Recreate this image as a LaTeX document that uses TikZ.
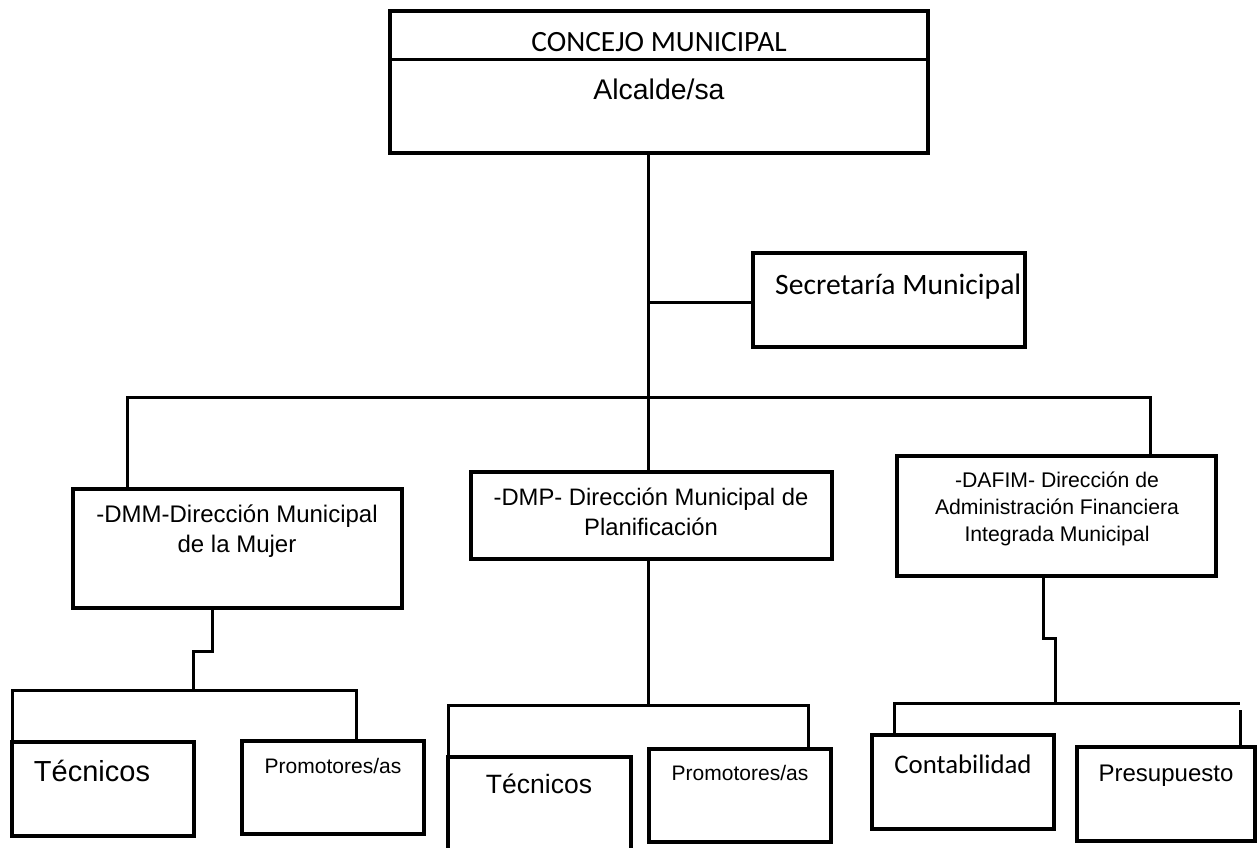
\documentclass[tikz,border=0pt]{standalone}
\usepackage{fontspec}
\setmainfont{Liberation Sans}
\newfontfamily\calibri{Carlito}
\usepackage{tikz}
\usetikzlibrary{positioning,calc}
\tikzset{
  orgbox/.style={
    rectangle, draw=black, line width=3.2pt,
    inner sep=0pt, outer sep=0pt, anchor=north west
  },
  link/.style={line width=3pt, draw=black, line join=miter},
  arialtxt/.style={font=\fontsize{#1}{#1}\selectfont, inner sep=0pt, anchor=base},
  calibritxt/.style={font=\calibri\fontsize{#1}{#1}\selectfont, inner sep=0pt, anchor=base},
}

\begin{document}
\begin{tikzpicture}[x=1pt, y=-1pt]
  \useasboundingbox (0,0) rectangle (1258,848);
  % top level
  \node[orgbox, minimum width=538pt, minimum height=142pt] at (390,11) (concejo) {};
  \draw[link] ([yshift=-49pt]concejo.north west) -- ([yshift=-49pt]concejo.north east);
  \node[calibritxt=29.4] at (659,52) (concejo-t) {CONCEJO MUNICIPAL};
  \node[arialtxt=28.4] at (659,100) (alcalde-t) {Alcalde/sa};
  \node[orgbox, minimum width=272pt, minimum height=94pt] at (753,253) (secretaria) {};
  \node[calibritxt=29.6, anchor=base west] at (775,294) (secretaria-t) {Secretaría Municipal};
  % direcciones
  \node[orgbox, minimum width=329pt, minimum height=119pt] at (73,489) (dmm) {};
  \node[orgbox, minimum width=361pt, minimum height=87pt] at (471,472) (dmp) {};
  \node[orgbox, minimum width=319pt, minimum height=120pt] at (897,456) (dafim) {};
  \node[font=\fontsize{24}{30}\selectfont, align=center, inner sep=0pt, anchor=base]
    at (237,552) (dmm-t) {-DMM-Dirección Municipal\\de la Mujer};
  \node[font=\fontsize{23.8}{30}\selectfont, align=center, inner sep=0pt, anchor=base]
    at (651,535) (dmp-t) {-DMP- Dirección Municipal de\\Planificación};
  \node[font=\fontsize{21.2}{27}\selectfont, align=center, inner sep=0pt, anchor=base]
    at (1057,541) (dafim-t) {-DAFIM- Dirección de\\Administración Financiera\\Integrada Municipal};
  % unidades
  \node[orgbox, minimum width=182pt, minimum height=94pt] at (12,742) (tec1) {};
  \node[orgbox, minimum width=182pt, minimum height=93pt] at (242,741) (pro1) {};
  \node[orgbox, minimum width=183pt, minimum height=96pt] at (448,757) (tec2) {};
  \node[orgbox, minimum width=182pt, minimum height=93pt] at (649,749) (pro2) {};
  \node[orgbox, minimum width=182pt, minimum height=94pt] at (872,735) (conta) {};
  \node[orgbox, minimum width=178pt, minimum height=94pt] at (1077,747) (presu) {};
  \node[arialtxt=29] at (92,781) (tec1-t) {Técnicos};
  \node[arialtxt=21] at (333,773) (pro1-t) {Promotores/as};
  \node[arialtxt=26.5] at (539,793) (tec2-t) {Técnicos};
  \node[arialtxt=21] at (740,780) (pro2-t) {Promotores/as};
  \node[calibritxt=26.8] at (963,773) (conta-t) {Contabilidad};
  \node[arialtxt=24] at (1166,781) (presu-t) {Presupuesto};
  % junctions
  \coordinate (hub) at (648,397);
  \coordinate (secj) at (648,302);
  \coordinate (bl) at (127,397);
  \coordinate (br) at (1150,397);
  \coordinate (m1l) at (12,690);
  \coordinate (m1r) at (356,690);
  \coordinate (m2l) at (448,705);
  \coordinate (m2r) at (808,705);
  \coordinate (m3l) at (894,703);
  \coordinate (m3r) at (1240,703);
  % connectors
  \draw[link] (concejo.south -| hub) -- (hub);
  \draw[link] (secj) -- (secj -| secretaria.west);
  \draw[link] (bl |- dmm.north) -- (bl) -- (br) -- (br |- dafim.north);
  \draw[link] (hub) -- (hub |- dmp.north);
  \draw[link] ([xshift=-25.5pt]dmm.south) -- ++(0,43) -- ++(-19,0) -- ++(0,39);
  \draw[link] (tec1.north west) -- (m1l) -- (m1r) -- (m1r |- pro1.north);
  \draw[link] (dmp.south -| hub) -- (hub |- m2l);
  \draw[link] (tec2.north west) -- (m2l) -- (m2r) -- (m2r |- pro2.north);
  \draw[link] ([xshift=-13.5pt]dafim.south) -- ++(0,62) -- ++(12,0) -- ++(0,65);
  \draw[link] (m3l |- conta.north) -- (m3l) -- (m3r);
  \draw[link] ([yshift=-7pt]m3r) -- (m3r |- presu.north);
\end{tikzpicture}
\end{document}
